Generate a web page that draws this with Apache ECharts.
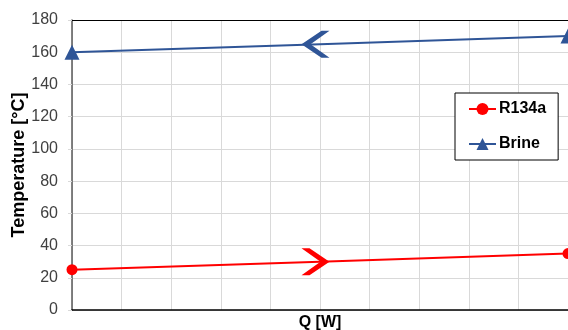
<!DOCTYPE html>
<html>
<head>
<meta charset="utf-8">
<script src="https://cdn.jsdelivr.net/npm/echarts@6/dist/echarts.min.js"></script>
<style>html,body{margin:0;padding:0;background:#fff}#c{width:568px;height:330px}</style>
</head>
<body>
<div id="c"></div>
<script>
const qPositions = [0, 5, 10];
const r134a = [25, 30, 35];
const brine = [160, 165, 170];
const yTicks = [0, 20, 40, 60, 80, 100, 120, 140, 160, 180];

const chevronRight = 'path://M0,0 L8,0 L28,13.5 L8,27 L0,27 L19,13.5 Z';
const chevronLeft = 'path://M28,0 L20,0 L0,13.5 L20,27 L28,27 L9,13.5 Z';

function build(vals, mid) {
  return vals.map((v, i) => {
    const d = { value: [qPositions[i], v] };
    if (i === 1) {
      d.symbol = mid; d.symbolSize = [28, 27]; d.symbolOffset = [-4.5, 0];
    }
    return d;
  });
}

const chart = echarts.init(document.getElementById('c'));
chart.setOption({
  animation: false,
  grid: { left: 72, right: 0, top: 20, bottom: 20, outerBoundsMode: 'none', containLabel: false },
  legend: {
    left: 455, top: 93, orient: 'vertical',
    borderColor: '#000', borderWidth: 1, borderRadius: 0,
    padding: [8, 12, 8, 13], itemGap: 19, itemWidth: 27, itemHeight: 15,
    backgroundColor: '#fff',
    textStyle: { fontFamily: 'Liberation Sans', fontWeight: 'bold', fontSize: 16, color: '#000', padding: [0, 0, 0, -2] },
    data: ['R134a', 'Brine']
  },
  xAxis: [{
    type: 'value', min: 0, max: 10, interval: 1,
    name: 'Q [W]', nameLocation: 'middle', nameGap: 5, nameMoveOverlap: false,
    nameTextStyle: { fontFamily: 'Liberation Sans', fontWeight: 'bold', fontSize: 16, color: '#000' },
    axisLine: { show: true, lineStyle: { color: '#000', width: 1.5 } },
    axisTick: { show: false }, axisLabel: { show: false },
    splitLine: { show: true, lineStyle: { color: '#d9d9d9', width: 1 } }
  }, {
    type: 'value', position: 'top', min: 0, max: 10, interval: 1,
    axisLine: { show: true, onZero: false, lineStyle: { color: '#000', width: 1 } },
    axisTick: { show: false }, axisLabel: { show: false }, splitLine: { show: false }
  }],
  yAxis: {
    type: 'value', min: yTicks[0], max: yTicks[yTicks.length - 1], interval: 20,
    name: 'Temperature [°C]', nameLocation: 'middle', nameGap: 44, nameMoveOverlap: false,
    nameTextStyle: { fontFamily: 'Liberation Sans', fontWeight: 'bold', fontSize: 18, color: '#000' },
    axisLine: { show: true, lineStyle: { color: '#595959', width: 1.5 } },
    axisTick: { show: true, length: 4, lineStyle: { color: '#d9d9d9' } },
    axisLabel: { fontFamily: 'Liberation Sans', fontSize: 16, color: '#404040', margin: 14 },
    splitLine: { show: true, lineStyle: { color: '#d9d9d9', width: 1 } }
  },
  series: [{
    name: 'R134a', type: 'line', clip: false,
    symbol: 'circle', symbolSize: 11,
    itemStyle: { color: '#ff0000' }, lineStyle: { color: '#ff0000', width: 2 },
    data: build(r134a, chevronRight)
  }, {
    name: 'Brine', type: 'line', clip: false,
    symbol: 'triangle', symbolSize: 15,
    itemStyle: { color: '#2f5597' }, lineStyle: { color: '#2f5597', width: 2 },
    data: build(brine, chevronLeft)
  }]
});
</script>
</body>
</html>
